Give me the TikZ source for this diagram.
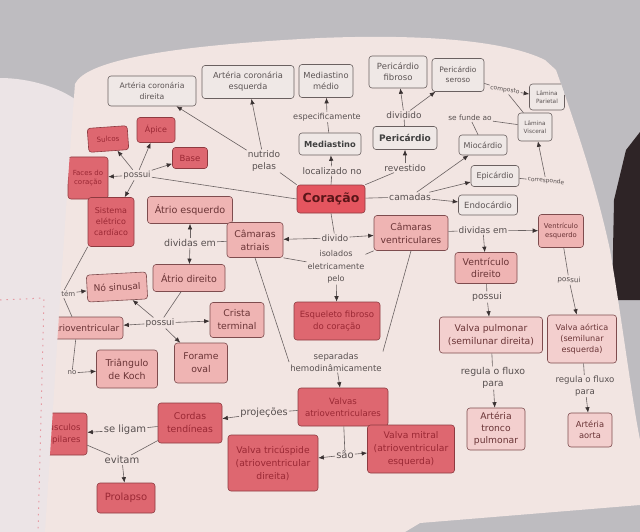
\documentclass[tikz,border=0pt]{standalone}
\usepackage{fontspec}
\setmainfont{DejaVu Sans}
\usetikzlibrary{arrows.meta}
\definecolor{bg}{HTML}{BEBCC0}
\definecolor{pagec}{HTML}{F2E5E2}
\definecolor{leftpg}{HTML}{ECE4E6}
\definecolor{darkbook}{HTML}{2E2426}
\definecolor{dotpink}{HTML}{E59AA2}
\definecolor{gfill}{HTML}{EFE8E6}
\definecolor{gdraw}{HTML}{6A6060}
\definecolor{gtext}{HTML}{5C5454}
\definecolor{pfill}{HTML}{EFB4B3}
\definecolor{pdraw}{HTML}{7E4C4E}
\definecolor{ptext}{HTML}{6A3436}
\definecolor{lpfill}{HTML}{F3CFCE}
\definecolor{rfill}{HTML}{DE6770}
\definecolor{rdraw}{HTML}{8E3A40}
\definecolor{rtext}{HTML}{9A2834}
\definecolor{corfill}{HTML}{E4555F}
\definecolor{cortext}{HTML}{5A1518}
\definecolor{ltext}{HTML}{585050}
\definecolor{lcol}{HTML}{6A6262}
\definecolor{tipcol}{HTML}{3A3232}
\tikzset{
 base/.style={rounded corners=3pt, line width=0.6pt, align=center, inner sep=1pt},
 gbox/.style={base, draw=gdraw, fill=gfill, text=gtext},
 pbox/.style={base, draw=pdraw, fill=pfill, text=ptext},
 lpbox/.style={base, draw=pdraw, fill=lpfill, text=ptext},
 rbox/.style={base, draw=rdraw, fill=rfill, text=rtext},
 lbl/.style={text=ltext, inner sep=1pt, align=center},
 conn/.style={draw=lcol, line width=0.6pt},
 arr/.style={conn, -{Latex[length=5.5pt,width=4.5pt,color=tipcol]}},
 sz/.style 2 args={minimum width=#1pt, minimum height=#2pt},
 fs/.style 2 args={font=\fontsize{#1}{#2}\selectfont}
}
\begin{document}
\begin{tikzpicture}[x=1pt,y=-1pt]
\useasboundingbox (0,0) rectangle (640,532);
\fill[bg] (0,0) rectangle (640,532);
\fill[darkbook] (626,150) -- (640,132) -- (640,300) -- (612,300) -- (614,200) -- cycle;
\fill[leftpg] (0,78) .. controls (30,78) and (60,88) .. (76,100) -- (46,532) -- (0,532) -- cycle;
\draw[dotpink, line width=1pt, dash pattern=on 1.5pt off 5pt] (0,300) -- (44,298) -- (38,532);
\fill[pagec] (75,84) .. controls (85,62) and (160,46) .. (320,38) .. controls (420,34) and (505,40) .. (545,60) -- (556,70) .. controls (572,115) and (595,180) .. (610,250) .. controls (622,320) and (632,400) .. (640,440) -- (640,505) -- (420,523) -- (405,532) -- (45,532) .. controls (55,380) and (66,200) .. (75,84) -- cycle;
\begin{scope}
\clip (75,84) .. controls (85,62) and (160,46) .. (320,38) .. controls (420,34) and (505,40) .. (545,60) -- (556,70) .. controls (572,115) and (595,180) .. (610,250) .. controls (622,320) and (632,400) .. (640,440) -- (640,505) -- (420,523) -- (405,532) -- (45,532) .. controls (55,380) and (66,200) .. (75,84) -- cycle;
% ---------- top row
\node[gbox, sz={88}{30}, fs={7.7}{10.5}] (acd) at (152,91) {Artéria coronária\\direita};
\node[gbox, sz={92}{33}, fs={8.3}{11}] (ace) at (248,82) {Artéria coronária\\esquerda};
\node[gbox, sz={54}{33}, fs={8.3}{11}] (mm) at (326,81) {Mediastino\\médio};
\node[gbox, sz={58}{32}, fs={8.5}{11}] (pf) at (398,72) {Pericárdio\\fibroso};
\node[gbox, sz={52}{33}, fs={7.5}{10}] (ps) at (458,75) {Pericárdio\\seroso};
\node[gbox, sz={35}{26}, fs={5.8}{8}] (lp) at (547,97) {Lâmina\\Parietal};
\node[gbox, sz={34}{28}, fs={5.8}{8}] (lv) at (535,127) {Lâmina\\Visceral};
% ---------- second row
\node[gbox, sz={62}{22}, font=\fontsize{8.3}{10}\selectfont\bfseries, text=black!75] (med) at (330,144) {Mediastino};
\node[gbox, sz={64}{23}, font=\fontsize{9}{11}\selectfont\bfseries, text=black!75] (per) at (405,138) {Pericárdio};
\node[gbox, sz={48}{20}, fs={8}{10}] (mio) at (483,145) {Miocárdio};
\node[gbox, sz={48}{21}, fs={8}{10}] (epi) at (495,176) {Epicárdio};
\node[gbox, sz={59}{20}, fs={8.5}{10}] (endo) at (488,205) {Endocárdio};
\node[base, draw=rdraw, fill=corfill, text=cortext, sz={68}{28}, font=\fontsize{12.5}{14}\selectfont\bfseries] (cor) at (331,199) {Coração};
% ---------- left top cluster
\node[rbox, sz={40}{24}, fs={7}{9}, rotate=4] (sul) at (108,139) {Sulcos};
\node[rbox, sz={38}{25}, fs={8}{10}] (api) at (156,130) {Ápice};
\node[rbox, sz={35}{21}, fs={8.5}{10}] (bas) at (190,158) {Base};
\node[rbox, sz={40}{42}, fs={7}{9.5}] (fac) at (88,178) {Faces do\\coração};
\node[rbox, sz={46}{49}, fs={8}{11}] (sec) at (111,222) {Sistema\\elétrico\\cardíaco};
% ---------- atria
\node[pbox, sz={85}{27}, fs={9.6}{12}] (ae) at (190,210) {Átrio esquerdo};
\node[pbox, sz={56}{35}, fs={9.3}{13}] (ca) at (255,240) {Câmaras\\atriais};
\node[pbox, sz={72}{27}, fs={9.5}{12}] (ad) at (189,278) {Átrio direito};
\node[pbox, sz={60}{27}, fs={9.1}{11}, rotate=3] (ns) at (117,287) {Nó sinusal};
\node[pbox, sz={92}{22}, fs={9}{11}] (nav) at (77,328) {Nó atrioventricular};
\node[pbox, sz={54}{35}, fs={9.3}{13}] (ct) at (237,320) {Crista\\terminal};
\node[pbox, sz={53}{40}, fs={9.3}{13}] (fo) at (201,363) {Forame\\oval};
\node[pbox, sz={61}{38}, fs={9.4}{13}] (tk) at (127,369) {Triângulo\\de Koch};
% ---------- middle
\node[pbox, sz={74}{35}, fs={9.3}{13}] (cv) at (411,233) {Câmaras\\ventriculares};
\node[rbox, sz={86}{38}, fs={8.6}{12}] (esq) at (337,321) {Esqueleto fibroso\\do coração};
\node[rbox, sz={90}{38}, fs={8.6}{12}] (vav) at (343,407) {Valvas\\atrioventriculares};
\node[rbox, sz={64}{40}, fs={9.3}{13}] (cot) at (190,423) {Cordas\\tendíneas};
\node[rbox, sz={52}{42}, fs={8.5}{12}] (mp) at (61,434) {Músculos\\papilares};
\node[rbox, sz={58}{30}, fs={10}{12}] (pro) at (126,498) {Prolapso};
\node[rbox, sz={90}{56}, fs={9.2}{13}] (vt) at (273,463) {Valva tricúspide\\(atrioventricular\\direita)};
\node[rbox, sz={87}{48}, fs={9.2}{13}] (vm) at (411,449) {Valva mitral\\(atrioventricular\\esquerda)};
% ---------- ventricles
\node[pbox, sz={45}{33}, fs={6.8}{9.5}] (ve) at (561,231) {Ventrículo\\esquerdo};
\node[pbox, sz={62}{31}, fs={9.3}{12.5}] (vd) at (486,268) {Ventrículo\\direito};
\node[lpbox, sz={103}{36}, fs={9.3}{13}] (vp) at (491,335) {Valva pulmonar\\(semilunar direita)};
\node[lpbox, sz={69}{48}, fs={8.1}{11}] (va) at (582,339) {Valva aórtica\\(semilunar\\esquerda)};
\node[lpbox, sz={58}{42}, fs={9.2}{12}] (atp) at (496,429) {Artéria\\tronco\\pulmonar};
\node[lpbox, sz={44}{34}, fs={8.3}{11}] (aa) at (590,430) {Artéria\\aorta};
% ---------- labels
\node[lbl, fs={9}{12}] (nutrido) at (264,161) {nutrido\\pelas};
\node[lbl, fs={9}{11}] (loc) at (332,171) {localizado no};
\node[lbl, fs={8.2}{10}] (espec) at (327,117) {especificamente};
\node[lbl, fs={8.9}{11}] (dividido) at (404,115) {dividido};
\node[lbl, fs={8.9}{11}] (rev) at (405,168) {revestido};
\node[lbl, fs={7.4}{9}] (sefunde) at (470,118) {se funde ao};
\node[lbl, fs={6}{8}, rotate=-8] (comp) at (505,90) {composto};
\node[lbl, fs={5.9}{8}, rotate=-6] (corr) at (546,181) {corresponde};
\node[lbl, fs={9.2}{11}] (cam) at (410,197) {camadas};
\node[lbl, fs={8.5}{10}] (possuiA) at (137,175) {possui};
\node[lbl, fs={8.8}{11}] (divido) at (335,238) {divido};
\node[lbl, fs={9.5}{11}] (divem) at (190,243) {dividas em};
\node[lbl, fs={8.1}{12.5}] (iso) at (336,267) {isolados\\eletricamente\\pelo};
\node[lbl, fs={8.6}{12}] (sep) at (336,362) {separadas\\hemodinâmicamente};
\node[lbl, fs={9}{11}] (possuiB) at (160,323) {possui};
\node[lbl, fs={7}{9}] (contem) at (62,294) {contém};
\node[lbl, fs={7}{9}] (no) at (72,373) {no};
\node[lbl, fs={8.9}{11}] (divemB) at (483,230) {dividas em};
\node[lbl, fs={9.3}{11}] (possuiC) at (487,297) {possui};
\node[lbl, fs={7.2}{9}, rotate=-4] (possuiD) at (569,280) {possui};
\node[lbl, fs={9.4}{12}] (regA) at (493,378) {regula o fluxo\\para};
\node[lbl, fs={8.6}{11.5}] (regB) at (585,386) {regula o fluxo\\para};
\node[lbl, fs={9.8}{12}] (proj) at (264,413) {projeções};
\node[lbl, fs={10}{12}] (seligam) at (125,430) {se ligam};
\node[lbl, fs={10}{12}] (evitam) at (122,460) {evitam};
\node[lbl, fs={10}{12}] (sao) at (345,455) {são};
% ---------- connectors
\draw[conn] (cor.north west) -- (nutrido);
\draw[arr] (nutrido) -- (acd);
\draw[arr] (nutrido) -- (ace);
\draw[conn] (cor.north) -- (loc);
\draw[arr] (loc) -- (med);
\draw[conn] (med) -- (espec);
\draw[arr] (espec) -- (mm);
\draw[conn] (cor.north east) -- (rev);
\draw[arr] (rev) -- (per);
\draw[conn] (per) -- (dividido);
\draw[arr] (dividido) -- (pf);
\draw[arr] (dividido) -- (ps);
\draw[conn] (ps) -- (comp);
\draw[arr] (comp) -- (lp);
\draw[conn] (comp) -- (lv);
\draw[conn] (mio) -- (sefunde);
\draw[conn] (sefunde) -- (lv);
\draw[conn] (epi) -- (corr);
\draw[arr] (corr) -- (lv);
\draw[conn] (cor) -- (cam);
\draw[arr] (cam) -- (mio);
\draw[arr] (cam) -- (epi);
\draw[arr] (cam) -- (endo);
\draw[conn] (cor.west) -- (possuiA);
\draw[arr] (possuiA) -- (sul);
\draw[arr] (possuiA) -- (api);
\draw[arr] (possuiA) -- (bas);
\draw[arr] (possuiA) -- (fac);
\draw[arr] (possuiA) -- (sec);
\draw[conn] (cor.south) -- (divido);
\draw[arr] (divido) -- (ca);
\draw[arr] (divido) -- (cv);
\draw[conn] (ca.south east) -- (iso);
\draw[conn] (cv.south west) -- (iso);
\draw[arr] (iso) -- (esq);
\draw[conn] (ca.south) -- (sep.west);
\draw[conn] (cv.south) -- (sep.north east);
\draw[arr] (sep) -- (vav);
\draw[conn] (ca) -- (divem);
\draw[arr] (divem) -- (ae);
\draw[arr] (divem) -- (ad);
\draw[conn] (ad.-120) -- (possuiB);
\draw[arr] (possuiB) -- (ns);
\draw[arr] (possuiB) -- (fo);
\draw[arr] (possuiB) -- (nav);
\draw[arr] (possuiB) -- (ct);
\draw[conn] (sec.south west) -- (contem);
\draw[arr] (contem) -- (ns);
\draw[conn] (contem) -- (nav);
\draw[conn] (nav) -- (no);
\draw[arr] (no) -- (tk);
\draw[conn] (cv) -- (divemB);
\draw[arr] (divemB) -- (ve);
\draw[arr] (divemB) -- (vd);
\draw[conn] (vd) -- (possuiC);
\draw[arr] (possuiC) -- (vp);
\draw[conn] (ve) -- (possuiD);
\draw[arr] (possuiD) -- (va);
\draw[conn] (vp) -- (regA);
\draw[arr] (regA) -- (atp);
\draw[conn] (va) -- (regB);
\draw[arr] (regB) -- (aa);
\draw[conn] (vav) -- (proj);
\draw[arr] (proj) -- (cot);
\draw[conn] (cot) -- (seligam);
\draw[arr] (seligam) -- (mp);
\draw[conn] (cot) -- (evitam);
\draw[conn] (mp) -- (evitam);
\draw[arr] (evitam) -- (pro);
\draw[conn] (vav) -- (sao);
\draw[arr] (sao) -- (vt);
\draw[arr] (sao) -- (vm);
\end{scope}
\end{tikzpicture}
\end{document}
